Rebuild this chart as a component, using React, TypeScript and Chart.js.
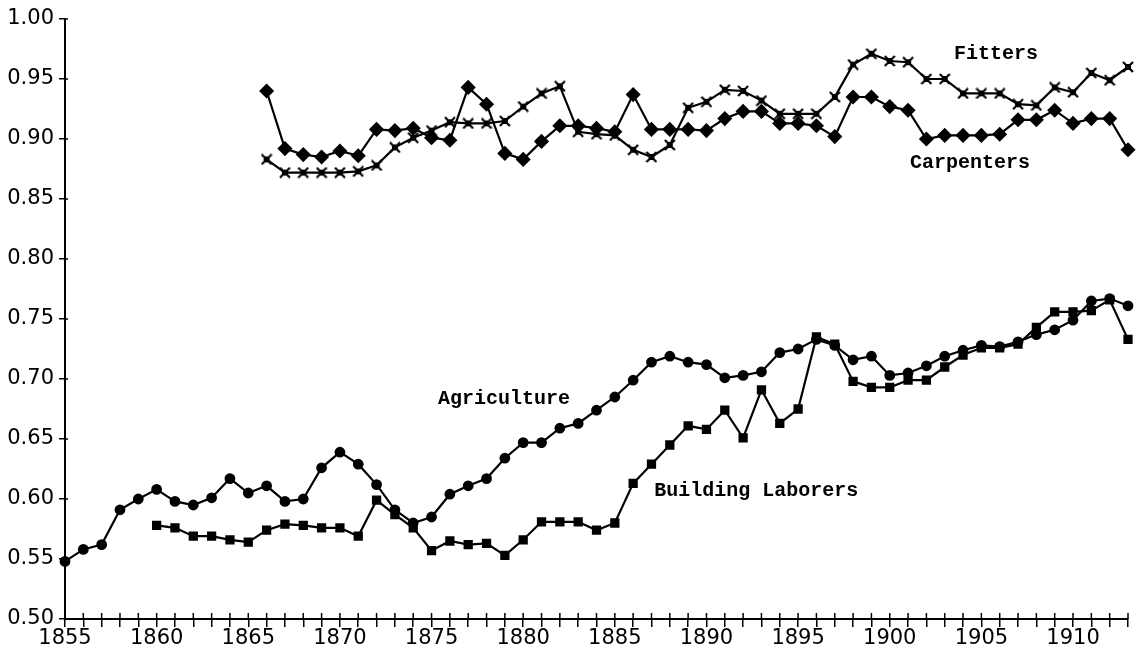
import React, { useEffect, useRef } from "react";
import { Chart, registerables } from "chart.js";

Chart.register(...registerables);

// ---- Data ----
const agricultureStart = 1855;
const agricultureValues = [
  0.548, 0.558, 0.562, 0.591, 0.600, 0.608, 0.598, 0.595, 0.601, 0.617,
  0.605, 0.611, 0.598, 0.600, 0.626, 0.639, 0.629, 0.612, 0.591, 0.580,
  0.585, 0.604, 0.611, 0.617, 0.634, 0.647, 0.647, 0.659, 0.663, 0.674,
  0.685, 0.699, 0.714, 0.719, 0.714, 0.712, 0.701, 0.703, 0.706, 0.722,
  0.725, 0.733, 0.728, 0.716, 0.719, 0.703, 0.705, 0.711, 0.719, 0.724,
  0.728, 0.727, 0.731, 0.737, 0.741, 0.749, 0.765, 0.767, 0.761,
];

const buildingStart = 1860;
const buildingValues = [
  0.578, 0.576, 0.569, 0.569, 0.566, 0.564, 0.574, 0.579, 0.578, 0.576,
  0.576, 0.569, 0.599, 0.587, 0.576, 0.557, 0.565, 0.562, 0.563, 0.553,
  0.566, 0.581, 0.581, 0.581, 0.574, 0.580, 0.613, 0.629, 0.645, 0.661,
  0.658, 0.674, 0.651, 0.691, 0.663, 0.675, 0.735, 0.729, 0.698, 0.693,
  0.693, 0.699, 0.699, 0.710, 0.720, 0.726, 0.726, 0.729, 0.743, 0.756,
  0.756, 0.757, 0.766, 0.733,
];

const carpentersStart = 1866;
const carpentersValues = [
  0.940, 0.892, 0.887, 0.885, 0.890, 0.886, 0.908, 0.907, 0.909, 0.901,
  0.899, 0.943, 0.929, 0.888, 0.883, 0.898, 0.911, 0.911, 0.909, 0.906,
  0.937, 0.908, 0.908, 0.908, 0.907, 0.917, 0.923, 0.923, 0.913, 0.913,
  0.911, 0.902, 0.935, 0.935, 0.927, 0.924, 0.900, 0.903, 0.903, 0.903,
  0.904, 0.916, 0.916, 0.924, 0.913, 0.917, 0.917, 0.891,
];

const fittersStart = 1866;
const fittersValues = [
  0.883, 0.872, 0.872, 0.872, 0.872, 0.873, 0.878, 0.893, 0.901, 0.907,
  0.914, 0.913, 0.913, 0.915, 0.927, 0.938, 0.944, 0.906, 0.904, 0.903,
  0.891, 0.885, 0.895, 0.926, 0.931, 0.941, 0.940, 0.932, 0.921, 0.921,
  0.921, 0.935, 0.962, 0.971, 0.965, 0.964, 0.950, 0.950, 0.938, 0.938,
  0.938, 0.929, 0.928, 0.943, 0.939, 0.955, 0.949, 0.960,
];

const xMin = 1855;
const xMax = 1913;
const yMin = 0.5;
const yMax = 1.0;
const yStep = 0.05;

// Series label texts and their anchor (year, value) — left/middle anchored
const labelTexts = ["Fitters", "Carpenters", "Agriculture", "Building Laborers"];
const labelYears = [1903.5, 1901.1, 1875.35, 1887.15];
const labelValues = [0.971, 0.88, 0.6835, 0.607];

const toPoints = (start: number, values: number[]) =>
  values.map((v, i) => ({ x: start + i, y: v }));

// Marker for the Fitters series: a small filled square with an X through it
function makeFitterMarker(): HTMLCanvasElement {
  const c = document.createElement("canvas");
  c.width = 12;
  c.height = 12;
  const g = c.getContext("2d")!;
  g.fillStyle = "#000";
  g.fillRect(3, 3, 6, 6);
  g.strokeStyle = "#000";
  g.lineWidth = 2.2;
  g.beginPath();
  g.moveTo(1, 1);
  g.lineTo(11, 11);
  g.moveTo(11, 1);
  g.lineTo(1, 11);
  g.stroke();
  return c;
}

const innerTicks = {
  id: "innerTicks",
  afterDraw(chart: any) {
    const { ctx, chartArea, scales } = chart;
    const x = scales.x;
    const y = scales.y;
    ctx.save();
    ctx.strokeStyle = "#000";
    ctx.lineWidth = 1.5;
    x.ticks.forEach((t: any) => {
      const px = x.getPixelForValue(t.value);
      ctx.beginPath();
      ctx.moveTo(px, chartArea.bottom - 6);
      ctx.lineTo(px, chartArea.bottom);
      ctx.stroke();
    });
    y.ticks.forEach((t: any) => {
      const py = y.getPixelForValue(t.value);
      ctx.beginPath();
      ctx.moveTo(chartArea.left, py);
      ctx.lineTo(chartArea.left + 3, py);
      ctx.stroke();
    });
    ctx.font = 'bold 20px "Liberation Mono", "DejaVu Sans Mono", monospace';
    ctx.fillStyle = "#000";
    ctx.textAlign = "left";
    ctx.textBaseline = "middle";
    labelTexts.forEach((txt, i) => {
      ctx.fillText(txt, x.getPixelForValue(labelYears[i]), y.getPixelForValue(labelValues[i]));
    });
    ctx.restore();
  },
};

export default function App() {
  const canvasRef = useRef<HTMLCanvasElement | null>(null);

  useEffect(() => {
    if (!canvasRef.current) return;
    const common = {
      borderColor: "#000",
      backgroundColor: "#000",
      pointBackgroundColor: "#000",
      pointBorderColor: "#000",
      borderWidth: 2.2,
      tension: 0,
      fill: false,
      clip: false,
    };
    const fitterMarker = makeFitterMarker();
    const chart = new Chart(canvasRef.current, {
      type: "line",
      data: {
        datasets: [
          {
            ...common,
            label: "Agriculture",
            data: toPoints(agricultureStart, agricultureValues),
            pointStyle: "circle",
            pointRadius: 4.3,
          },
          {
            ...common,
            label: "Building Laborers",
            data: toPoints(buildingStart, buildingValues),
            pointStyle: "rect",
            pointRadius: 5,
          },
          {
            ...common,
            label: "Carpenters",
            data: toPoints(carpentersStart, carpentersValues),
            pointStyle: "rectRot",
            pointRadius: 6,
          },
          {
            ...common,
            label: "Fitters",
            data: toPoints(fittersStart, fittersValues),
            pointStyle: fitterMarker,
            pointRadius: 6,
          },
        ],
      },
      options: {
        responsive: false,
        animation: false,
        events: [],
        layout: { padding: { top: 19, right: 13, left: 0, bottom: 0 } },
        plugins: { legend: { display: false }, tooltip: { enabled: false } },
        scales: {
          x: {
            type: "linear",
            min: xMin,
            max: xMax,
            afterFit: (s: any) => {
              s.height = 39;
            },
            border: { display: true, color: "#000", width: 2 },
            grid: {
              drawOnChartArea: false,
              drawTicks: true,
              tickLength: 8,
              color: "#000",
              lineWidth: 1.5,
            },
            ticks: {
              stepSize: 1,
              autoSkip: false,
              maxRotation: 0,
              padding: -1,
              color: "#000",
              font: { family: '"DejaVu Sans", sans-serif', size: 21 },
              callback: (v: any) => (Number(v) % 5 === 0 ? String(v) : ""),
            },
          },
          y: {
            type: "linear",
            min: yMin,
            max: yMax,
            afterFit: (s: any) => {
              s.width = 65;
            },
            border: { display: true, color: "#000", width: 2 },
            grid: {
              drawOnChartArea: false,
              drawTicks: true,
              tickLength: 6,
              color: "#000",
              lineWidth: 1.5,
            },
            ticks: {
              stepSize: yStep,
              padding: 5,
              color: "#000",
              font: { family: '"DejaVu Sans", sans-serif', size: 21 },
              callback: (v: any) => Number(v).toFixed(2),
            },
          },
        },
      },
      plugins: [innerTicks],
    } as any);
    return () => chart.destroy();
  }, []);

  return (
    <div style={{ position: "fixed", left: 0, top: 0, width: 1141, height: 658, background: "#fff" }}>
      <canvas ref={canvasRef} width={1141} height={658} />
    </div>
  );
}
